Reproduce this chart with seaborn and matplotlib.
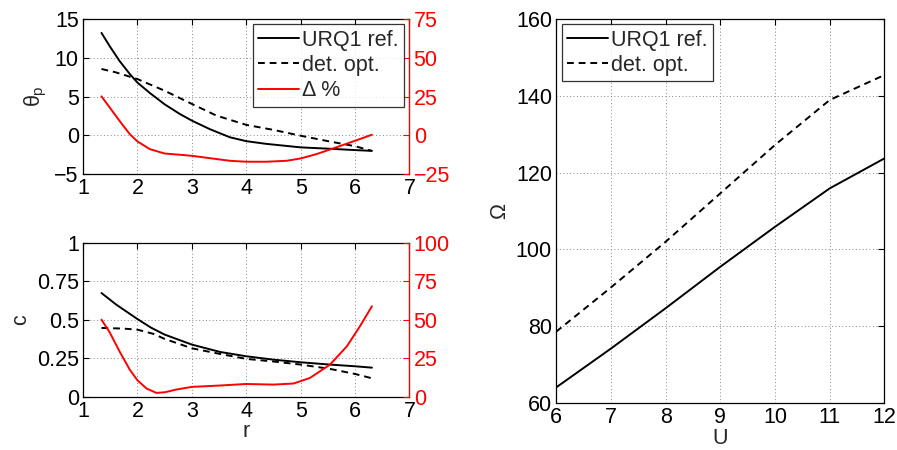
import numpy as np
import pandas as pd
import matplotlib
matplotlib.use("Agg")
import matplotlib.pyplot as plt
import seaborn as sns

# ---- data ----
r_urq1 = [1.34, 1.49, 1.67, 1.86, 2.0, 2.23, 2.5, 2.78, 3.0, 3.33, 3.7, 4.0, 4.37, 5.0, 5.6, 6.0, 6.31]
theta_urq = [13.2, 11.5, 9.6, 7.9, 6.8, 5.45, 4.0, 2.75, 1.9, 0.8, -0.25, -0.75, -1.1, -1.55, -1.75, -1.9, -2.0]
r_det1 = [1.34, 1.61, 2.0, 2.5, 3.0, 3.45, 4.0, 4.5, 5.0, 5.54, 6.0, 6.31]
theta_det = [8.55, 8.1, 7.25, 5.75, 4.05, 2.55, 1.35, 0.7, -0.05, -0.8, -1.4, -2.0]
r_del1 = [1.34, 1.49, 1.67, 1.86, 2.0, 2.23, 2.5, 2.78, 3.0, 3.33, 3.7, 4.0, 4.37, 4.74, 5.0, 5.29, 5.6, 6.0, 6.31]
theta_delta = [25.1, 18.0, 9.4, 0.8, -3.9, -8.9, -11.7, -12.5, -13.2, -14.7, -16.4, -17.0, -17.0, -16.4, -14.9, -12.1, -8.4, -3.5, 0.4]

r_urq2 = [1.34, 1.61, 2.0, 2.25, 2.5, 3.0, 3.52, 4.0, 4.5, 5.0, 5.54, 6.0, 6.31]
c_urq = [0.675, 0.60, 0.506, 0.45, 0.405, 0.34, 0.292, 0.264, 0.242, 0.225, 0.21, 0.199, 0.19]
r_det2 = [1.34, 1.74, 2.0, 2.29, 2.5, 3.0, 3.52, 4.0, 4.5, 5.0, 5.54, 6.0, 6.31]
c_det = [0.448, 0.444, 0.437, 0.41, 0.377, 0.316, 0.279, 0.247, 0.23, 0.21, 0.182, 0.149, 0.121]
r_del2 = [1.34, 1.49, 1.67, 1.86, 2.0, 2.17, 2.35, 2.5, 2.72, 3.0, 3.52, 4.0, 4.5, 4.87, 5.17, 5.54, 5.85, 6.09, 6.31]
c_delta = [50.2, 42.0, 29.7, 17.7, 10.8, 5.4, 2.6, 3.0, 4.8, 6.5, 7.4, 8.4, 8.0, 8.7, 12.3, 21.0, 32.9, 45.9, 58.9]

U = [6, 7, 8, 9, 10, 11, 12]
omega_urq = [64.1, 74.2, 84.7, 95.5, 105.9, 115.9, 123.7]
omega_det = [78.6, 90.1, 102.0, 114.6, 127.2, 138.9, 145.4]

lab_urq = "URQ1 ref."
lab_det = "det. opt."
lab_delta = "\u0394 %"

# ---- style ----
sns.set_style("white")
plt.rcParams["font.family"] = ["Liberation Sans", "DejaVu Sans"]
plt.rcParams["mathtext.fontset"] = "custom"
plt.rcParams["mathtext.rm"] = "Liberation Sans"
plt.rcParams["mathtext.it"] = "Liberation Sans"
FS = 15.5
plt.rcParams["font.size"] = FS

fig = plt.figure(figsize=(8.97, 4.5), dpi=100)
ax1 = fig.add_axes([0.0925, 0.613, 0.364, 0.345])
ax2 = fig.add_axes([0.0925, 0.118, 0.364, 0.342])
ax3 = fig.add_axes([0.62, 0.104, 0.366, 0.854])

dash = (3.5, 2.5)
LW = 1.4

def style_axes(ax):
    for s in ax.spines.values():
        s.set_color("black")
        s.set_linewidth(0.9)
    ax.grid(True, linestyle=(0, (1, 2.5)), color="#888888", linewidth=0.7)
    ax.tick_params(direction="in", length=4, width=0.8, labelsize=FS, colors="black",
                   top=True, right=False, pad=3)

d1u = pd.DataFrame({"r": r_urq1, "v": theta_urq})
d1d = pd.DataFrame({"r": r_det1, "v": theta_det})
d1x = pd.DataFrame({"r": r_del1, "v": theta_delta})
d2u = pd.DataFrame({"r": r_urq2, "v": c_urq})
d2d = pd.DataFrame({"r": r_det2, "v": c_det})
d2x = pd.DataFrame({"r": r_del2, "v": c_delta})
df3 = pd.DataFrame({"U": U, "urq": omega_urq, "det": omega_det})

# ---- top-left ----
sns.lineplot(data=d1u, x="r", y="v", ax=ax1, color="black", lw=LW, label=lab_urq)
sns.lineplot(data=d1d, x="r", y="v", ax=ax1, color="black", lw=LW, label=lab_det)
ax1.lines[-1].set_dashes(dash)
ax1t = ax1.twinx()
sns.lineplot(data=d1x, x="r", y="v", ax=ax1t, color="red", lw=LW, label=lab_delta)
ax1.set_xlim(1, 7)
ax1.set_ylim(-5, 15)
ax1.set_yticks([-5, 0, 5, 10, 15])
ax1.set_yticklabels(["\u22125", "0", "5", "10", "15"])
ax1.set_xticks(range(1, 8))
ax1t.set_ylim(-25, 75)
ax1t.set_yticks([-25, 0, 25, 50, 75])
ax1t.set_yticklabels(["\u221225", "0", "25", "50", "75"])
ax1.set_xlabel("")
ax1.set_ylabel(r"$\theta_\mathrm{p}$", fontsize=FS, labelpad=4)
ax1t.set_ylabel("")
style_axes(ax1)
ax1t.tick_params(direction="in", length=4, width=0.8, labelsize=FS, colors="red", pad=3)
ax1t.spines["right"].set_color("red")
for s in ["left", "top", "bottom"]:
    ax1t.spines[s].set_visible(False)
h1, l1 = ax1.get_legend_handles_labels()
h2, l2 = ax1t.get_legend_handles_labels()
ax1.get_legend().remove()
ax1t.get_legend().remove()
leg = ax1t.legend(h1 + h2, l1 + l2, loc="upper right", fontsize=FS, frameon=True, fancybox=False,
                  edgecolor="black", handlelength=1.9, handletextpad=0.15, borderpad=0.25,
                  labelspacing=0.2, borderaxespad=0.25)
leg.get_frame().set_linewidth(0.9)

# ---- bottom-left ----
sns.lineplot(data=d2u, x="r", y="v", ax=ax2, color="black", lw=LW)
sns.lineplot(data=d2d, x="r", y="v", ax=ax2, color="black", lw=LW)
ax2.lines[-1].set_dashes(dash)
ax2t = ax2.twinx()
sns.lineplot(data=d2x, x="r", y="v", ax=ax2t, color="red", lw=LW)
ax2.set_xlim(1, 7)
ax2.set_ylim(0, 1)
ax2.set_yticks([0, 0.25, 0.5, 0.75, 1])
ax2.set_yticklabels(["0", "0.25", "0.5", "0.75", "1"])
ax2.set_xticks(range(1, 8))
ax2t.set_ylim(0, 100)
ax2t.set_yticks([0, 25, 50, 75, 100])
ax2.set_xlabel("r", fontsize=FS, labelpad=-1)
ax2.set_ylabel("c", fontsize=FS, labelpad=4)
ax2t.set_ylabel("")
style_axes(ax2)
ax2t.tick_params(direction="in", length=4, width=0.8, labelsize=FS, colors="red", pad=3)
ax2t.spines["right"].set_color("red")
for s in ["left", "top", "bottom"]:
    ax2t.spines[s].set_visible(False)

# ---- right ----
sns.lineplot(data=df3, x="U", y="urq", ax=ax3, color="black", lw=LW, label=lab_urq)
sns.lineplot(data=df3, x="U", y="det", ax=ax3, color="black", lw=LW, label=lab_det)
ax3.lines[-1].set_dashes(dash)
ax3.set_xlim(6, 12)
ax3.set_ylim(60, 160)
ax3.set_xticks(range(6, 13))
ax3.set_yticks(range(60, 161, 20))
ax3.set_xlabel("U", fontsize=FS, labelpad=0)
ax3.set_ylabel("\u03a9", fontsize=FS, labelpad=4)
style_axes(ax3)
ax3.tick_params(right=True)
ax3.get_legend().remove()
h3, l3 = ax3.get_legend_handles_labels()
leg3 = ax3.legend(h3, l3, loc="upper left", fontsize=FS, frameon=True, fancybox=False,
                  edgecolor="black", handlelength=1.9, handletextpad=0.15, borderpad=0.25,
                  labelspacing=0.2, borderaxespad=0.25)
leg3.get_frame().set_linewidth(0.9)

fig.savefig("out.png", dpi=100)
